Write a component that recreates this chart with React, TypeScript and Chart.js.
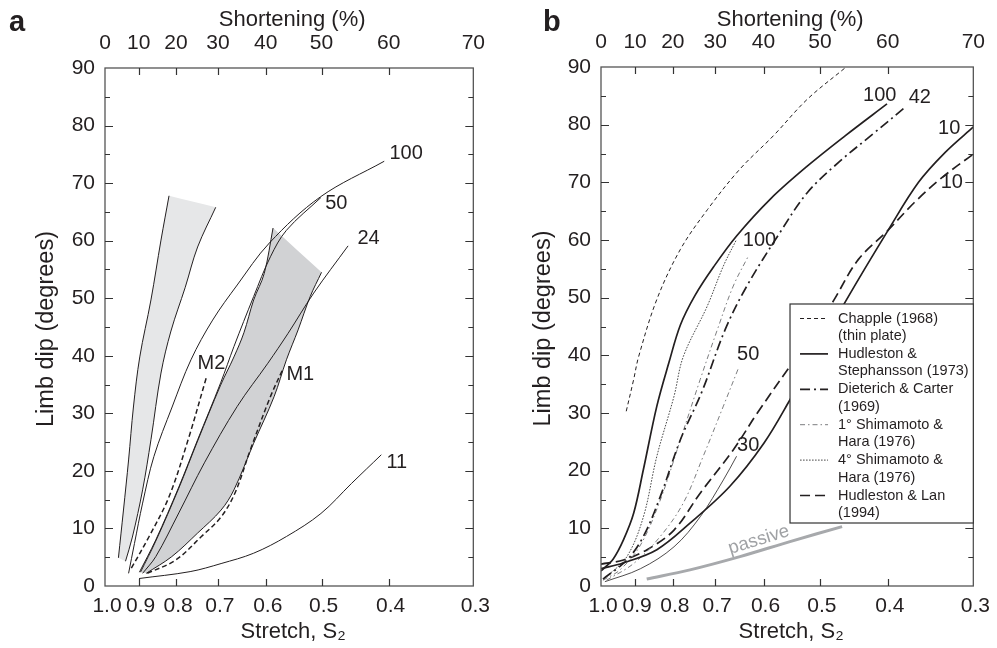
import React, { useEffect, useRef } from 'react';
import { Chart, registerables, LinearScale } from 'chart.js';

Chart.register(...registerables);

type Pt = [number, number];

// ---------------- axes ----------------
const STRETCH_TICKS = [1.0, 0.9, 0.8, 0.7, 0.6, 0.5, 0.4, 0.3];
const SHORTENING_TICKS = [0, 10, 20, 30, 40, 50, 60, 70];
const DIP_MIN = 0;
const DIP_MAX = 90;

// ---------------- panel a (S2, limb dip) ----------------
const aLightLeft: Pt[] = [[0.959, 4.9], [0.944, 13.2], [0.929, 21.9], [0.915, 31.1], [0.897, 39.8], [0.866, 49.7], [0.839, 60.1], [0.818, 67.8]];
const aLightRight: Pt[] = [[0.938, 4.3], [0.918, 8.5], [0.889, 16.7], [0.866, 25.4], [0.839, 37.0], [0.813, 44.3], [0.777, 51.9], [0.747, 58.9], [0.705, 65.8]];
const aDarkLeft: Pt[] = [[0.895, 2.4], [0.853, 7.8], [0.793, 17.0], [0.747, 25.2], [0.694, 34.9], [0.665, 39.8], [0.644, 44.0], [0.624, 49.7], [0.603, 54.3], [0.586, 62.2]];
const aDarkRight: Pt[] = [[0.879, 2.2], [0.811, 5.1], [0.747, 9.2], [0.693, 13.2], [0.665, 16.7], [0.624, 24.8], [0.584, 32.9], [0.561, 39.3], [0.540, 44.5], [0.519, 50.3], [0.5, 54.5]];
const a100: Pt[] = [[0.929, 2.2], [0.912, 7.4], [0.889, 14.4], [0.858, 22.5], [0.810, 31.1], [0.763, 39.3], [0.712, 46.2], [0.658, 52.3], [0.593, 59.6], [0.502, 67.6], [0.406, 73.8]];
const a50: Pt[] = [[0.898, 2.4], [0.853, 8.0], [0.793, 17.2], [0.747, 25.4], [0.694, 35.3], [0.665, 41.6], [0.624, 50.3], [0.591, 57.2], [0.561, 61.8], [0.501, 67.5]];
const a24: Pt[] = [[0.889, 2.2], [0.853, 5.1], [0.793, 12.7], [0.731, 21.4], [0.658, 31.2], [0.596, 38.7], [0.558, 43.9], [0.513, 50.9], [0.458, 59.1]];
const aM1: Pt[] = [[0.876, 2.2], [0.801, 4.5], [0.738, 8.6], [0.693, 12.0], [0.662, 16.3], [0.631, 23.6], [0.591, 32.9], [0.567, 37.8]];
const aM2: Pt[] = [[0.921, 3.1], [0.871, 8.6], [0.818, 15.5], [0.770, 25.4], [0.727, 36.1]];
const a11: Pt[] = [[0.899, 1.3], [0.765, 2.5], [0.693, 3.9], [0.624, 5.7], [0.561, 8.6], [0.501, 12.6], [0.453, 17.8], [0.410, 22.8]];

const aLabels: { text: string; at: Pt }[] = [
  { text: '100', at: [0.399, 75.1] },
  { text: '50', at: [0.494, 66.5] },
  { text: '24', at: [0.444, 60.3] },
  { text: 'M2', at: [0.747, 38.6] },
  { text: 'M1', at: [0.561, 36.7] },
  { text: '11', at: [0.403, 21.5] },
];

// ---------------- panel b ----------------
const bChapple: Pt[] = [[0.925, 30.3], [0.904, 35.8], [0.890, 39.8], [0.841, 49.7], [0.781, 58.4], [0.717, 65.3], [0.647, 72.3], [0.581, 78.1], [0.521, 84.4], [0.461, 89.8]];
const bHS100: Pt[] = [[1.0, 2.6], [0.963, 4.7], [0.933, 8.0], [0.904, 12.6], [0.877, 20.2], [0.841, 31.2], [0.810, 38.7], [0.781, 45.3], [0.746, 50.4], [0.703, 55.4], [0.654, 60.7], [0.587, 67.1], [0.521, 72.8], [0.460, 78.1], [0.401, 83.6]];
const bHS10: Pt[] = [[1.0, 3.0], [0.934, 4.0], [0.841, 6.3], [0.758, 10.9], [0.668, 17.3], [0.599, 24.8], [0.551, 32.3], [0.458, 49.7], [0.399, 61.8], [0.361, 70.0], [0.330, 75.2], [0.3, 79.6]];
const bDC42: Pt[] = [[0.994, 1.2], [0.923, 4.5], [0.877, 8.6], [0.832, 15.5], [0.781, 25.4], [0.730, 33.7], [0.678, 44.5], [0.633, 52.0], [0.569, 61.3], [0.521, 68.2], [0.470, 73.5], [0.420, 78.4], [0.376, 83.2]];
const bSH1_100: Pt[] = [[0.994, 1.0], [0.943, 2.8], [0.885, 7.1], [0.832, 14.9], [0.781, 25.4], [0.734, 35.8], [0.695, 44.5], [0.661, 52.0], [0.630, 57.2]];
const bSH1_50: Pt[] = [[0.983, 1.0], [0.904, 3.9], [0.832, 8.6], [0.774, 14.4], [0.727, 22.5], [0.682, 31.2], [0.650, 37.8]];
const bSH4_100: Pt[] = [[0.983, 1.6], [0.923, 5.1], [0.877, 12.0], [0.841, 22.5], [0.797, 32.9], [0.774, 39.8], [0.718, 48.5], [0.682, 55.5], [0.654, 60.1]];
const bSH4_30: Pt[] = [[0.988, 0.75], [0.885, 3.0], [0.797, 6.8], [0.734, 12.0], [0.682, 18.4], [0.654, 22.5]];
const bHL10: Pt[] = [[1.0, 3.8], [0.933, 4.5], [0.867, 6.3], [0.797, 9.7], [0.734, 16.1], [0.661, 23.6], [0.612, 30.0], [0.551, 38.1], [0.509, 44.0], [0.477, 49.7], [0.441, 56.6], [0.401, 61.5], [0.366, 66.5], [0.333, 70.9], [0.3, 74.9]];
const bPassive: Pt[] = [[0.868, 1.2], [0.758, 2.8], [0.647, 5.1], [0.551, 7.7], [0.465, 10.3]];

const bLabels: { text: string; at: Pt }[] = [
  { text: '100', at: [0.434, 85.1] },
  { text: '42', at: [0.373, 84.8] },
  { text: '10', at: [0.338, 79.4] },
  { text: '10', at: [0.335, 70.0] },
  { text: '100', at: [0.641, 59.9] },
  { text: '50', at: [0.653, 40.1] },
  { text: '30', at: [0.653, 24.3] },
];
const passiveLabel = { text: 'passive', at: [0.609, 8.0] as Pt };

// ---------------- styles ----------------
const FONT = '"Liberation Sans", Arial, Helvetica, sans-serif';
const INK = '#231f20';
type LineStyle = { dash: number[]; width: number; color: string };
const STY: Record<string, LineStyle> = {
  thin: { dash: [], width: 1, color: INK },
  mDash: { dash: [5, 3], width: 1.5, color: INK },
  chapple: { dash: [4, 3], width: 1, color: INK },
  hs: { dash: [], width: 1.7, color: INK },
  dc: { dash: [10, 4, 2, 4], width: 1.7, color: INK },
  sh1: { dash: [5, 3, 1.5, 3], width: 0.9, color: '#6d6e70' },
  sh4: { dash: [1.6, 1.4], width: 0.9, color: '#333333' },
  thin30: { dash: [], width: 0.8, color: INK },
  hl: { dash: [10, 5], width: 1.7, color: INK },
  passive: { dash: [], width: 3, color: '#a7a9ac' },
};

const LEGEND: { lines: string[]; style: LineStyle }[] = [
  { lines: ['Chapple (1968)', '(thin plate)'], style: STY.chapple },
  { lines: ['Hudleston &', 'Stephansson (1973)'], style: STY.hs },
  { lines: ['Dieterich & Carter', '(1969)'], style: STY.dc },
  { lines: ['1\u00b0 Shimamoto &', 'Hara (1976)'], style: STY.sh1 },
  { lines: ['4\u00b0 Shimamoto &', 'Hara (1976)'], style: STY.sh4 },
  { lines: ['Hudleston & Lan', '(1994)'], style: STY.hl },
];

// ---------------- custom stretch scale ----------------
const LN_END = Math.log(1 / 0.3);
function warp(s: number) {
  const d = Math.log(1 / s) / LN_END;
  return d * (1 + 0.05 * (1 - d));
}

class StretchScale extends LinearScale {
  static id = 'stretch';
  static defaults = { ticks: { callback: (v: number) => String(v) } };
  sFor(v: number) {
    return (this as any).id === 'xTop' ? 1 - v / 100 : v;
  }
  getPixelForValue(v: any) {
    if (v === null || v === undefined || isNaN(v)) return NaN;
    return (this as any).getPixelForDecimal(warp(this.sFor(+v)));
  }
  getValueForPixel(p: number) {
    const dec = (this as any).getDecimalForPixel(p);
    let lo = 0.2, hi = 1.2;
    for (let i = 0; i < 50; i++) {
      const mid = (lo + hi) / 2;
      if (warp(mid) > dec) lo = mid; else hi = mid;
    }
    const s = (lo + hi) / 2;
    return (this as any).id === 'xTop' ? (1 - s) * 100 : s;
  }
  buildTicks() {
    const vals = (this as any).id === 'xTop' ? SHORTENING_TICKS : STRETCH_TICKS;
    return vals.map((value) => ({ value }));
  }
}
Chart.register(StretchScale as any);

// ---------------- helpers ----------------
const pts = (arr: Pt[]) => arr.map(([x, y]) => ({ x, y }));
const lineDs = (arr: Pt[], st: LineStyle) => ({
  data: pts(arr),
  showLine: true,
  borderColor: st.color,
  borderWidth: st.width,
  borderDash: st.dash,
  pointRadius: 0,
  tension: 0.35,
  fill: false,
  xAxisID: 'x',
  yAxisID: 'y',
});
// closed band between two curves; corner points doubled so the joins stay straight
const shapeDs = (left: Pt[], right: Pt[], color: string) => {
  const r = right.slice().reverse();
  const ring = [...left, left[left.length - 1], r[0], ...r, r[r.length - 1]];
  return {
    data: pts(ring),
    showLine: true,
    borderWidth: 0,
    borderColor: 'rgba(0,0,0,0)',
    backgroundColor: color,
    pointRadius: 0,
    tension: 0.35,
    fill: 'shape',
    xAxisID: 'x',
    yAxisID: 'y',
  };
};

type Panel = {
  width: number;
  height: number;
  area: { left: number; right: number; top: number; bottom: number };
  letter: string;
  letterX: number;
  datasets: any[];
  labels: { text: string; at: Pt }[];
  legend: boolean;
  passive: boolean;
};

function decorPlugin(p: Panel) {
  return {
    id: 'decor',
    afterDraw(chart: any) {
      const { ctx, chartArea: a, scales } = chart;
      const x = scales.x, xt = scales.xTop, y = scales.y;
      ctx.save();
      // frame
      ctx.strokeStyle = '#555555';
      ctx.lineWidth = 1.3;
      ctx.setLineDash([]);
      ctx.strokeRect(a.left, a.top, a.right - a.left, a.bottom - a.top);
      // inward ticks
      ctx.strokeStyle = '#333333';
      ctx.lineWidth = 1.2;
      ctx.beginPath();
      for (let v = DIP_MIN + 5; v < DIP_MAX; v += 5) {
        const py = Math.round(y.getPixelForValue(v)) + 0.5;
        const L = v % 10 === 0 ? 8 : 5;
        ctx.moveTo(a.left, py); ctx.lineTo(a.left + L, py);
        ctx.moveTo(a.right, py); ctx.lineTo(a.right - L, py);
      }
      STRETCH_TICKS.slice(1, -1).forEach((s) => {
        const px = Math.round(x.getPixelForValue(s)) + 0.5;
        ctx.moveTo(px, a.bottom); ctx.lineTo(px, a.bottom - 7);
      });
      SHORTENING_TICKS.slice(1, -1).forEach((s) => {
        const px = Math.round(xt.getPixelForValue(s)) + 0.5;
        ctx.moveTo(px, a.top); ctx.lineTo(px, a.top + 7);
      });
      ctx.stroke();

      ctx.fillStyle = INK;
      // panel letter
      ctx.font = `bold 29px ${FONT}`;
      ctx.textAlign = 'left';
      ctx.textBaseline = 'middle';
      ctx.fillText(p.letter, p.letterX, 23);
      // axis titles
      const cx = (a.left + a.right) / 2;
      ctx.font = `22px ${FONT}`;
      ctx.textAlign = 'center';
      ctx.fillText('Shortening (%)', cx + 3, 20);
      ctx.fillText('Stretch, S\u2082', cx + 4, 632);
      ctx.save();
      ctx.font = `23.5px ${FONT}`;
      ctx.translate(47, (a.top + a.bottom) / 2 + 2);
      ctx.rotate(-Math.PI / 2);
      ctx.fillText('Limb dip (degrees)', 0, 0);
      ctx.restore();
      // curve labels
      ctx.font = `20px ${FONT}`;
      ctx.textAlign = 'left';
      p.labels.forEach((l) => {
        ctx.fillText(l.text, x.getPixelForValue(l.at[0]), y.getPixelForValue(l.at[1]));
      });
      if (p.passive) {
        ctx.save();
        ctx.fillStyle = '#a0a2a5';
        ctx.font = `18.5px ${FONT}`;
        ctx.textAlign = 'center';
        ctx.translate(x.getPixelForValue(passiveLabel.at[0]), y.getPixelForValue(passiveLabel.at[1]));
        ctx.rotate((-17 * Math.PI) / 180);
        ctx.fillText(passiveLabel.text, 0, 0);
        ctx.restore();
      }
      if (p.legend) {
        const w = 183.3, h = 219;
        const x0 = a.right - w, y0 = a.top + 237;
        ctx.fillStyle = '#ffffff';
        ctx.fillRect(x0, y0, w, h);
        ctx.strokeStyle = '#333333';
        ctx.lineWidth = 1.2;
        ctx.setLineDash([]);
        ctx.strokeRect(x0, y0, w, h);
        ctx.font = `14.5px ${FONT}`;
        ctx.textAlign = 'left';
        ctx.textBaseline = 'middle';
        LEGEND.forEach((e, i) => {
          const ly = y0 + 14.5 + i * 35.4;
          ctx.strokeStyle = e.style.color;
          ctx.lineWidth = e.style.width;
          ctx.setLineDash(e.style.dash);
          ctx.beginPath();
          ctx.moveTo(x0 + 10, ly);
          ctx.lineTo(x0 + 38, ly);
          ctx.stroke();
          ctx.fillStyle = INK;
          e.lines.forEach((t, j) => ctx.fillText(t, x0 + 48, ly + j * 17.4));
        });
      }
      ctx.restore();
    },
  };
}

function makeConfig(p: Panel) {
  const tickFont = { family: FONT, size: 21 };
  const noGrid = { display: false, drawTicks: false, tickLength: 0 };
  return {
    type: 'scatter',
    data: { datasets: p.datasets },
    options: {
      responsive: false,
      maintainAspectRatio: false,
      animation: false,
      events: [],
      layout: { padding: { left: 0, top: 0, bottom: 0, right: p.width - p.area.right } },
      plugins: { legend: { display: false }, tooltip: { enabled: false } },
      scales: {
        x: {
          type: 'stretch',
          position: 'bottom',
          min: 0.3,
          max: 1.0,
          grid: noGrid,
          border: { display: false },
          ticks: {
            autoSkip: false, maxRotation: 0, minRotation: 0, padding: 8, labelOffset: 2,
            font: tickFont, color: INK,
            callback: (v: number) => Number(v).toFixed(1),
          },
          afterFit: (s: any) => { s.height = p.height - p.area.bottom; },
        },
        xTop: {
          type: 'stretch',
          position: 'top',
          min: 0,
          max: 70,
          grid: noGrid,
          border: { display: false },
          ticks: {
            autoSkip: false, maxRotation: 0, minRotation: 0, padding: 12,
            font: tickFont, color: INK,
            callback: (v: number) => String(v),
          },
          afterFit: (s: any) => { s.height = p.area.top; },
        },
        y: {
          type: 'linear',
          position: 'left',
          min: DIP_MIN,
          max: DIP_MAX,
          grid: noGrid,
          border: { display: false },
          ticks: { stepSize: 10, padding: 10, font: tickFont, color: INK },
          afterFit: (s: any) => { s.width = p.area.left; },
        },
      },
    },
    plugins: [decorPlugin(p)],
  } as any;
}

const panelA: Panel = {
  width: 497,
  height: 648,
  area: { left: 105, right: 480, top: 68, bottom: 586 },
  letter: 'a',
  letterX: 9,
  labels: aLabels,
  legend: false,
  passive: false,
  datasets: [
    lineDs(aLightLeft, STY.thin),
    lineDs(aLightRight, STY.thin),
    lineDs(a100, STY.thin),
    lineDs(a50, STY.thin),
    lineDs(a24, STY.thin),
    lineDs(a11, STY.thin),
    lineDs(aDarkLeft, STY.thin),
    lineDs(aDarkRight, STY.thin),
    lineDs(aM1, STY.mDash),
    lineDs(aM2, STY.mDash),
    shapeDs(aDarkLeft, aDarkRight, '#d1d2d4'),
    shapeDs(aLightLeft, aLightRight, '#e6e7e8'),
  ],
};

const panelB: Panel = {
  width: 500,
  height: 648,
  area: { left: 104, right: 478, top: 67, bottom: 586 },
  letter: 'b',
  letterX: 46,
  labels: bLabels,
  legend: true,
  passive: true,
  datasets: [
    lineDs(bChapple, STY.chapple),
    lineDs(bHS100, STY.hs),
    lineDs(bHS10, STY.hs),
    lineDs(bDC42, STY.dc),
    lineDs(bSH1_100, STY.sh1),
    lineDs(bSH1_50, STY.sh1),
    lineDs(bSH4_100, STY.sh4),
    lineDs(bSH4_30, STY.thin30),
    lineDs(bHL10, STY.hl),
    lineDs(bPassive, STY.passive),
  ],
};

function PanelChart({ panel, left }: { panel: Panel; left: number }) {
  const ref = useRef<HTMLCanvasElement | null>(null);
  useEffect(() => {
    if (!ref.current) return;
    const chart = new Chart(ref.current, makeConfig(panel));
    return () => chart.destroy();
  }, [panel]);
  return (
    <canvas
      ref={ref}
      width={panel.width}
      height={panel.height}
      style={{ position: 'absolute', left, top: 0, width: panel.width, height: panel.height, display: 'block' }}
    />
  );
}

export default function App() {
  return (
    <div style={{ position: 'absolute', left: 0, top: 0, width: 997, height: 648, background: '#ffffff', overflow: 'hidden' }}>
      <PanelChart panel={panelA} left={0} />
      <PanelChart panel={panelB} left={497} />
    </div>
  );
}
